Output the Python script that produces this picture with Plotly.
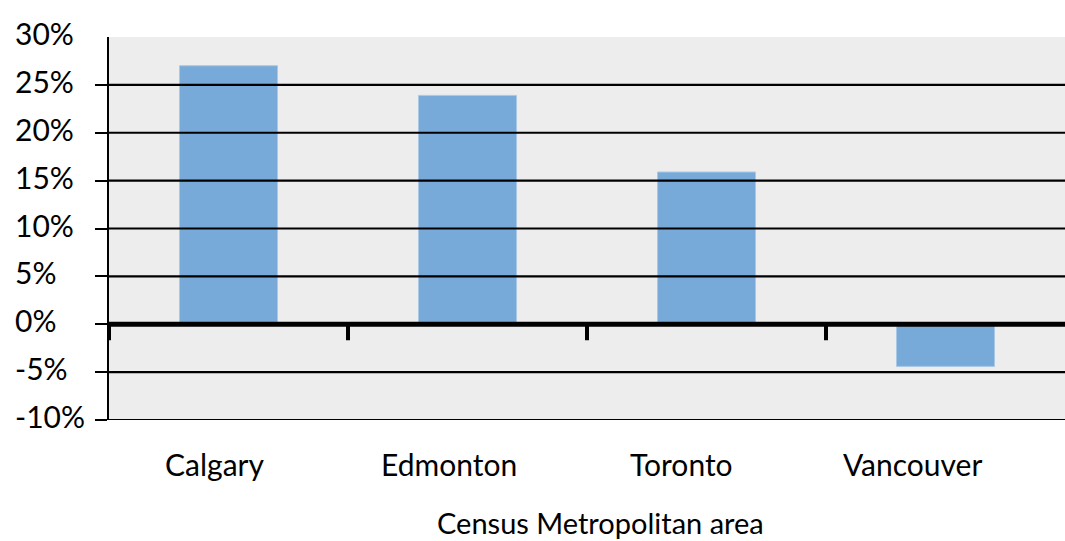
import plotly.graph_objects as go

categories = ["Calgary", "Edmonton", "Toronto", "Vancouver"]
values = [27.0, 23.9, 15.9, -4.4]
tick_values = [-10, -5, 0, 5, 10, 15, 20, 25, 30]
tick_labels = ["-10%", "-5%", "0%", "5%", "10%", "15%", "20%", "25%", "30%"]
x_title = "Census Metropolitan area"

FONT = "Lato"
label_xshift = [-14, -19, -25, -33]

fig = go.Figure()
fig.add_trace(go.Bar(
    x=categories, y=values,
    marker=dict(color="#77aad8", line=dict(color="#a9c8e6", width=1)),
    width=0.41,
))

shapes = []
for v in tick_values[:-1]:
    shapes.append(dict(type="line", xref="paper", yref="y", x0=0, x1=1, y0=v, y1=v,
                       line=dict(color="black", width=5 if v == 0 else 2.2), layer="above"))
for i in range(len(categories)):
    shapes.append(dict(type="line", xref="x", yref="y", x0=i - 0.5, x1=i - 0.5,
                       ysizemode="pixel", yanchor=0, y0=0, y1=-16,
                       line=dict(color="black", width=4), layer="above"))

annotations = []
for v, t in zip(tick_values, tick_labels):
    annotations.append(dict(xref="paper", yref="y", x=-96 / 956, y=v, text=t,
                            xanchor="left", yanchor="middle", showarrow=False, yshift=4,
                            font=dict(family=FONT, size=30, color="black")))
for c, dx in zip(categories, label_xshift):
    annotations.append(dict(xref="x", yref="paper", x=c, y=0, text=c, xshift=dx,
                            xanchor="center", yanchor="middle", yshift=-44, showarrow=False,
                            font=dict(family=FONT, size=30, color="black")))
annotations.append(dict(xref="paper", yref="paper", x=0.5, y=0, text=x_title, xshift=13,
                        xanchor="center", yanchor="middle", yshift=-102, showarrow=False,
                        font=dict(family=FONT, size=29, color="black")))

fig.update_layout(
    width=1065, height=541,
    margin=dict(l=109, r=0, t=37, b=121),
    paper_bgcolor="white", plot_bgcolor="#ededed",
    showlegend=False,
    font=dict(family=FONT, size=26, color="black"),
    shapes=shapes, annotations=annotations,
    xaxis=dict(range=[-0.5, 3.5], showgrid=False, showline=False, ticks="",
               showticklabels=False),
    yaxis=dict(range=[-10, 30], tickvals=tick_values[:-1], showticklabels=False,
               showgrid=False, zeroline=False, showline=True, linecolor="black", linewidth=2,
               ticks="outside", ticklen=12, tickwidth=2, tickcolor="black"),
)
fig.write_html("out.html")
